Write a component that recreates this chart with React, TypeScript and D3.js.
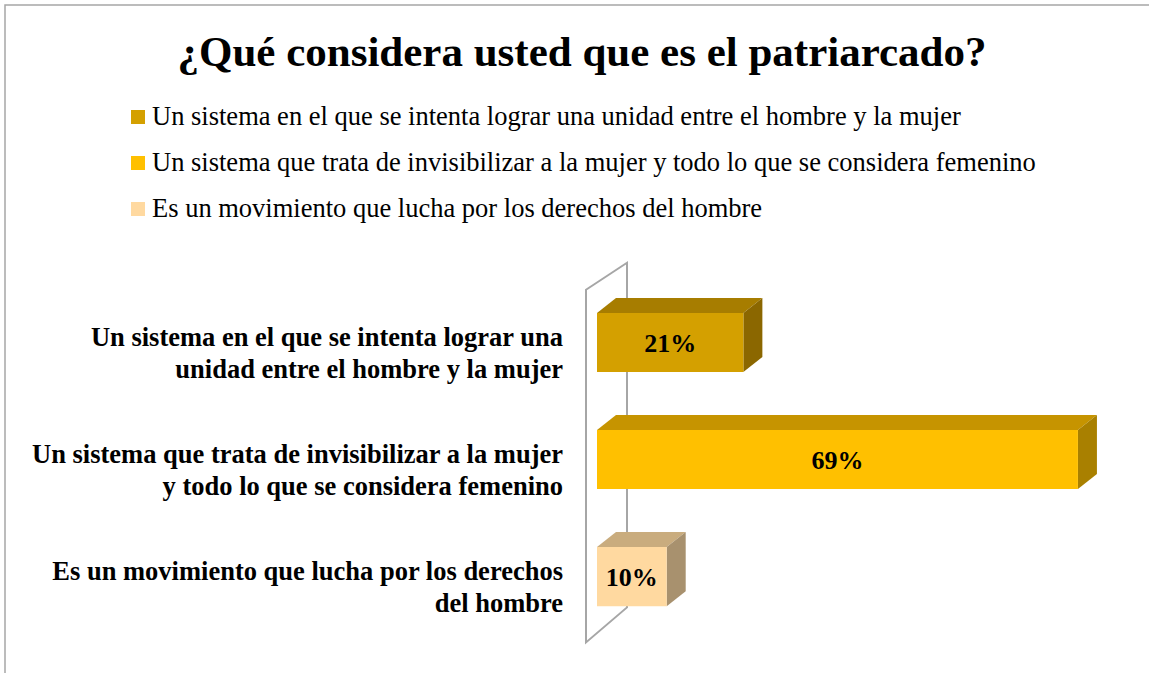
import React from "react";
import * as d3 from "d3";

const title = "¿Qué considera usted que es el patriarcado?";
const categories = [
  "Un sistema en el que se intenta lograr una unidad entre el hombre y la mujer",
  "Un sistema que trata de invisibilizar a la mujer y todo lo que se considera femenino",
  "Es un movimiento que lucha por los derechos del hombre",
];
const labelLines = [
  ["Un sistema en el que se intenta lograr una", "unidad entre el hombre y la mujer"],
  ["Un sistema que trata de invisibilizar a la mujer", "y todo lo que se considera femenino"],
  ["Es un movimiento que lucha por los derechos", "del hombre"],
];
const values = [21, 69, 10];
const frontColors = ["#D4A000", "#FFC000", "#FFD9A0"];
const topColors = ["#A77D00", "#C69400", "#C9AC7E"];
const sideColors = ["#8B6700", "#A98000", "#A8916E"];

const W = 1149;
const H = 673;
const font = "'Liberation Serif', 'Times New Roman', serif";

const depthX = 19;
const depthY = -15;

const x = d3.scaleLinear().domain([0, 100]).range([597, 1294]);
const y = d3
  .scaleBand<string>()
  .domain(categories)
  .range([283.75, 635.4])
  .paddingInner(0.495)
  .paddingOuter(0.25);

const App = () => {
  const bw = y.bandwidth();
  const wallFront = x(0) - 11;
  const wallBack = wallFront + 41;
  const [r0, r1] = y.range();
  const wallPts: [number, number][] = [
    [wallFront, r0 + 6],
    [wallBack, r0 - 21],
    [wallBack, r1 - 28],
    [wallFront, r1 + 7],
  ];
  const poly = (pts: [number, number][]) => pts.map((p) => p.join(",")).join(" ");

  return (
    <div style={{ position: "absolute", left: 0, top: 0 }}>
      <svg width={W} height={H} style={{ display: "block", background: "#fff" }}>
        <path d={`M5,${H} L5,5 L${W},5`} fill="none" stroke="#A6A6A6" strokeWidth={1.5} />
        <text
          x={582}
          y={66}
          textAnchor="middle"
          fontFamily={font}
          fontWeight="bold"
          fontSize={43}
          fill="#000"
        >
          {title}
        </text>
        {categories.map((c, i) => (
          <g key={c} transform={`translate(0,${117 + i * 46})`}>
            <rect x={131} y={-7} width={14} height={14} fill={frontColors[i]} />
            <text x={152} y={8} fontFamily={font} fontSize={26.5} fill="#000">
              {c}
            </text>
          </g>
        ))}
        <polygon points={poly(wallPts)} fill="none" stroke="#A6A6A6" strokeWidth={2} />
        {categories.map((c, i) => {
          const y0 = y(c)!;
          const x0 = x(0);
          const x1 = x(values[i]);
          const front: [number, number][] = [
            [x0, y0],
            [x1, y0],
            [x1, y0 + bw],
            [x0, y0 + bw],
          ];
          const top: [number, number][] = [
            [x0, y0],
            [x0 + depthX, y0 + depthY],
            [x1 + depthX, y0 + depthY],
            [x1, y0],
          ];
          const side: [number, number][] = [
            [x1, y0],
            [x1 + depthX, y0 + depthY],
            [x1 + depthX, y0 + bw + depthY],
            [x1, y0 + bw],
          ];
          return (
            <g key={c}>
              <polygon points={poly(top)} fill={topColors[i]} />
              <polygon points={poly(side)} fill={sideColors[i]} />
              <polygon points={poly(front)} fill={frontColors[i]} />
              <text
                x={(x0 + x1) / 2}
                y={y0 + bw / 2}
                dy="0.35em"
                textAnchor="middle"
                fontFamily={font}
                fontWeight="bold"
                fontSize={26}
                fill="#000"
              >
                {values[i]}%
              </text>
              <text
                x={563}
                y={y0 + bw / 2 + 3}
                textAnchor="end"
                fontFamily={font}
                fontWeight="bold"
                fontSize={26.5}
                fill="#000"
              >
                {labelLines[i].map((l, j) => (
                  <tspan key={j} x={563} dy={j === 0 ? 0 : 32}>
                    {l}
                  </tspan>
                ))}
              </text>
            </g>
          );
        })}
      </svg>
    </div>
  );
};

export default App;
